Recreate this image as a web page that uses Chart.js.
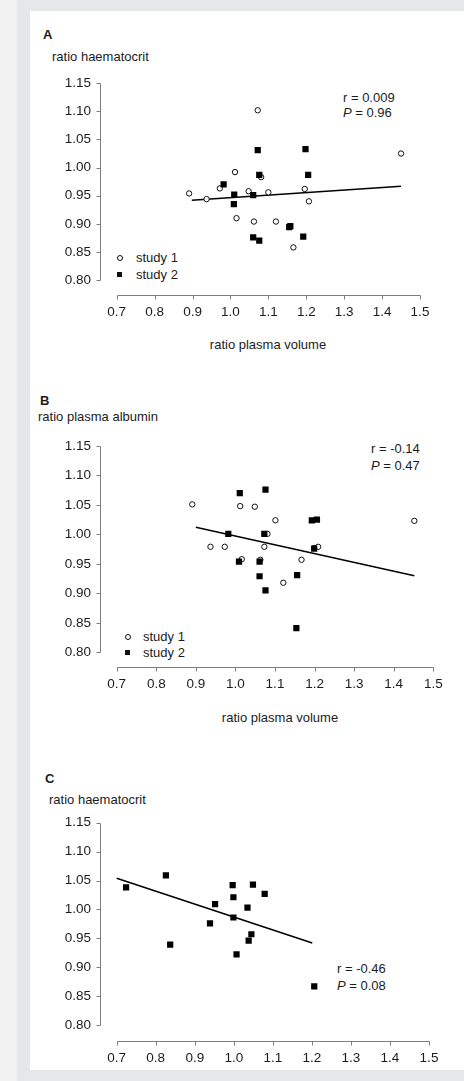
<!DOCTYPE html>
<html>
<head>
<meta charset="utf-8">
<script src="https://cdn.jsdelivr.net/npm/chart.js@4.4.1/dist/chart.umd.min.js"></script>
<style>
  html, body { margin: 0; padding: 0; }
  body {
    width: 464px; height: 1081px; position: relative; overflow: hidden;
    background: #f2f2f2; color: #1c1c1c;
    font-family: "Liberation Sans", Arial, sans-serif;
  }
  .frame { position: absolute; left: 17px; top: 0; width: 447px; height: 1081px; background: #e6e7e9; }
  .sheet { position: absolute; left: 30px; top: 11px; width: 434px; height: 1059px; background: #fff; }
  canvas { position: absolute; left: 0; }
  .t { position: absolute; font-size: 13px; line-height: 16px; white-space: nowrap; }
  .letter { font-weight: bold; }
  .mid { transform: translateX(-50%); }
  .dot { position: absolute; width: 4px; height: 4px; border: 1px solid #111; border-radius: 50%; background: #fff; }
  .sq { position: absolute; width: 5px; height: 5px; background: #111; }
</style>
</head>
<body>
<div class="frame"></div>
<div class="sheet"></div>

<!-- panel A -->
<div class="t letter" style="left:43px; top:27px;">A</div>
<div class="t" style="left:52px; top:49px;">ratio haematocrit</div>
<div class="t" style="left:343px; top:90px;">r = 0.009</div>
<div class="t" style="left:343px; top:105px;"><i>P</i> = 0.96</div>
<div class="dot" style="left:117px; top:255px;"></div>
<div class="t" style="left:136px; top:250px;">study 1</div>
<div class="sq" style="left:117px; top:272px;"></div>
<div class="t" style="left:136px; top:267px;">study 2</div>
<div class="t mid" style="left:268px; top:337px;">ratio plasma volume</div>
<canvas id="chartA" width="464" height="270" style="top:66px;"></canvas>

<!-- panel B -->
<div class="t letter" style="left:40px; top:393px;">B</div>
<div class="t" style="left:38px; top:409px;">ratio plasma albumin</div>
<div class="t" style="left:371px; top:441px;">r = -0.14</div>
<div class="t" style="left:371px; top:458px;"><i>P</i> = 0.47</div>
<div class="dot" style="left:125px; top:634px;"></div>
<div class="t" style="left:143px; top:629px;">study 1</div>
<div class="sq" style="left:125px; top:650px;"></div>
<div class="t" style="left:143px; top:645px;">study 2</div>
<div class="t mid" style="left:280px; top:710px;">ratio plasma volume</div>
<canvas id="chartB" width="464" height="275" style="top:428px;"></canvas>

<!-- panel C -->
<div class="t letter" style="left:45px; top:771px;">C</div>
<div class="t" style="left:49px; top:792px;">ratio haematocrit</div>
<div class="t" style="left:337px; top:961px;">r = -0.46</div>
<div class="t" style="left:337px; top:978px;"><i>P</i> = 0.08</div>
<canvas id="chartC" width="464" height="268" style="top:805px;"></canvas>

<script>
// axis ticks shared by all three panels
const xTicks = [0.7, 0.8, 0.9, 1.0, 1.1, 1.2, 1.3, 1.4, 1.5];
const yTicks = [0.80, 0.85, 0.90, 0.95, 1.00, 1.05, 1.10, 1.15];

// A: ratio haematocrit vs ratio plasma volume
const aStudy1Pv  = [0.891, 0.937, 0.972, 1.012, 1.048, 1.072, 1.081, 1.100, 1.016, 1.062, 1.120, 1.166, 1.196, 1.207, 1.450];
const aStudy1Hct = [0.954, 0.944, 0.963, 0.992, 0.958, 1.102, 0.983, 0.956, 0.910, 0.904, 0.904, 0.858, 0.962, 0.940, 1.025];
const aStudy2Pv  = [0.982, 1.010, 1.009, 1.060, 1.072, 1.076, 1.060, 1.076, 1.155, 1.158, 1.198, 1.205, 1.192];
const aStudy2Hct = [0.970, 0.952, 0.935, 0.951, 1.031, 0.987, 0.876, 0.870, 0.894, 0.896, 1.033, 0.987, 0.877];
const aFitPv  = [0.898, 1.450];
const aFitHct = [0.942, 0.967];

// B: ratio plasma albumin vs ratio plasma volume
const bStudy1Pv  = [0.891, 0.937, 0.973, 1.012, 1.049, 1.073, 1.081, 1.101, 1.016, 1.063, 1.121, 1.167, 1.199, 1.209, 1.452];
const bStudy1Alb = [1.051, 0.979, 0.979, 1.048, 1.047, 0.979, 1.001, 1.024, 0.958, 0.957, 0.918, 0.957, 0.977, 0.979, 1.023];
const bStudy2Pv  = [0.982, 1.011, 1.009, 1.061, 1.061, 1.076, 1.073, 1.076, 1.156, 1.154, 1.193, 1.206, 1.199];
const bStudy2Alb = [1.001, 1.070, 0.954, 0.954, 0.929, 1.076, 1.001, 0.905, 0.931, 0.841, 1.024, 1.025, 0.976];
const bFitPv  = [0.900, 1.452];
const bFitAlb = [1.012, 0.930];

// C: ratio haematocrit vs ratio plasma volume (study 2 only)
const cPv  = [0.724, 0.826, 0.837, 0.939, 0.952, 0.997, 0.999, 0.999, 1.007, 1.035, 1.049, 1.045, 1.038, 1.079, 1.206];
const cHct = [1.038, 1.059, 0.939, 0.976, 1.009, 1.042, 1.021, 0.986, 0.922, 1.003, 1.043, 0.957, 0.946, 1.027, 0.867];
const cFitPv  = [0.700, 1.201];
const cFitHct = [1.054, 0.942];

const zip = (xs, ys) => xs.map((x, i) => ({ x: x, y: ys[i] }));

const TEXT = '#1c1c1c';
const tickFont = { family: '"Liberation Sans", Arial, sans-serif', size: 13.5 };

// axes are drawn by hand so they can stay detached like in the figure
const axisLines = {
    id: 'axisLines',
    afterDraw(chart) {
        const { ctx, chartArea } = chart;
        const x = chart.scales.x, y = chart.scales.y;
        ctx.save();
        ctx.strokeStyle = '#7d7d7d';
        ctx.lineWidth = 1;
        ctx.beginPath();
        const ax = Math.round(chartArea.left) + 0.5;
        ctx.moveTo(ax, Math.round(y.getPixelForValue(yTicks[yTicks.length - 1])) + 0.5);
        ctx.lineTo(ax, Math.round(y.getPixelForValue(yTicks[0])) + 0.5);
        yTicks.forEach(v => {
            const py = Math.round(y.getPixelForValue(v)) + 0.5;
            ctx.moveTo(ax - 4, py);
            ctx.lineTo(ax, py);
        });
        const ay = Math.round(chartArea.bottom) + 0.5;
        ctx.moveTo(Math.round(x.getPixelForValue(xTicks[0])) + 0.5, ay);
        ctx.lineTo(Math.round(x.getPixelForValue(xTicks[xTicks.length - 1])) + 0.5, ay);
        xTicks.forEach(v => {
            const px = Math.round(x.getPixelForValue(v)) + 0.5;
            ctx.moveTo(px, ay);
            ctx.lineTo(px, ay + 4);
        });
        ctx.stroke();
        ctx.restore();
    }
};

function makePanel(id, canvasTop, canvasH, g, datasets) {
    const Y_W = 50, X_H = 25;
    const yLo = yTicks[0], yHi = yTicks[yTicks.length - 1];
    const xLo = xTicks[0], xHi = xTicks[xTicks.length - 1];
    const yMin = yLo - (g.xAxisY - g.yBot) * (yHi - yLo) / (g.yBot - g.yTop);
    const xMin = xLo - (g.xLeft - g.yAxisX) * (xHi - xLo) / (g.xRight - g.xLeft);

    new Chart(document.getElementById(id), {
        type: 'scatter',
        data: { datasets: datasets },
        options: {
            responsive: false,
            animation: false,
            events: [],
            layout: {
                padding: {
                    left: g.yAxisX - Y_W,
                    top: g.yTop - canvasTop,
                    right: 464 - g.xRight,
                    bottom: canvasH - X_H - (g.xAxisY - canvasTop)
                }
            },
            plugins: { legend: { display: false }, tooltip: { enabled: false } },
            scales: {
                x: {
                    type: 'linear', min: xMin, max: xHi,
                    grid: { display: false, drawTicks: false },
                    border: { display: false },
                    afterBuildTicks: s => { s.ticks = xTicks.map(v => ({ value: v })); },
                    afterFit: s => { s.height = X_H; },
                    ticks: { color: TEXT, font: tickFont, padding: 9, maxRotation: 0,
                             callback: v => v.toFixed(1) }
                },
                y: {
                    type: 'linear', min: yMin, max: yHi,
                    grid: { display: false, drawTicks: false },
                    border: { display: false },
                    afterBuildTicks: s => { s.ticks = yTicks.map(v => ({ value: v })); },
                    afterFit: s => { s.width = Y_W; },
                    ticks: { color: TEXT, font: tickFont, padding: 9,
                             callback: v => v.toFixed(2) }
                }
            }
        },
        plugins: [axisLines]
    });
}

const squares = data => ({
    data: data, order: 0, pointStyle: 'rect', pointRadius: 4.4,
    backgroundColor: '#000', borderColor: '#000', borderWidth: 0
});
const circles = data => ({
    data: data, order: 1, pointStyle: 'circle', pointRadius: 2.7,
    backgroundColor: '#fff', borderColor: '#111', borderWidth: 1
});
const fitLine = data => ({
    type: 'line', data: data, order: 2, showLine: true, pointRadius: 0,
    borderColor: '#000', borderWidth: 1.5, fill: false
});

makePanel('chartA', 66, 270,
    { yAxisX: 100, yTop: 83.3, yBot: 280, xAxisY: 295, xLeft: 116.7, xRight: 420 },
    [squares(zip(aStudy2Pv, aStudy2Hct)), circles(zip(aStudy1Pv, aStudy1Hct)), fitLine(zip(aFitPv, aFitHct))]);

makePanel('chartB', 428, 275,
    { yAxisX: 100, yTop: 446, yBot: 652.3, xAxisY: 666.7, xLeft: 116.7, xRight: 433.3 },
    [squares(zip(bStudy2Pv, bStudy2Alb)), circles(zip(bStudy1Pv, bStudy1Alb)), fitLine(zip(bFitPv, bFitAlb))]);

makePanel('chartC', 805, 268,
    { yAxisX: 100, yTop: 822.7, yBot: 1025, xAxisY: 1040.7, xLeft: 116.7, xRight: 429 },
    [squares(zip(cPv, cHct)), fitLine(zip(cFitPv, cFitHct))]);
</script>
</body>
</html>
